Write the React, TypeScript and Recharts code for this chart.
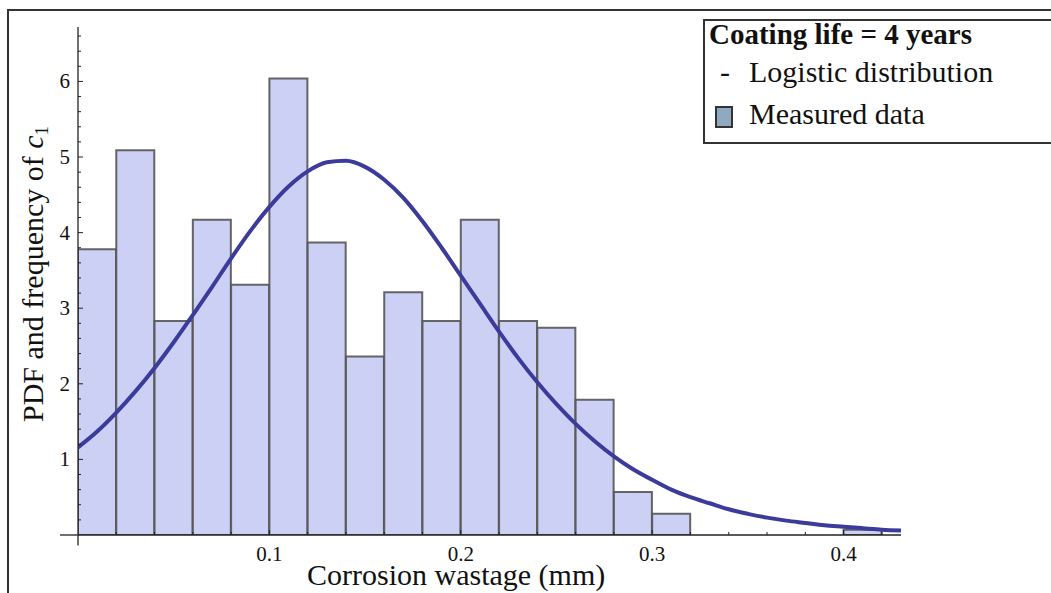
import { ComposedChart, Bar, Line, XAxis, YAxis, ReferenceLine } from 'recharts';

// histogram of measured c1 (bin centres, 0.02 mm wide bins)
const BINS = [0.01, 0.03, 0.05, 0.07, 0.09, 0.11, 0.13, 0.15, 0.17, 0.19, 0.21, 0.23, 0.25, 0.27, 0.29, 0.31, 0.33, 0.35, 0.37, 0.39, 0.41];
const FREQ = [3.78, 5.09, 2.83, 4.17, 3.31, 6.04, 3.87, 2.36, 3.21, 2.83, 4.17, 2.83, 2.74, 1.79, 0.57, 0.28, 0, 0, 0, 0, 0.07];

// fitted logistic pdf
const PDF_X = [0, 0.01, 0.02, 0.03, 0.04, 0.05, 0.06, 0.07, 0.08, 0.09, 0.1, 0.11, 0.12, 0.13, 0.14, 0.15, 0.16, 0.17, 0.18, 0.19, 0.2, 0.21, 0.22, 0.23, 0.24, 0.25, 0.26, 0.27, 0.28, 0.29, 0.3, 0.31, 0.32, 0.33, 0.34, 0.35, 0.36, 0.37, 0.38, 0.39, 0.4, 0.41, 0.42, 0.43];
const PDF_Y = [1.16, 1.37, 1.62, 1.9, 2.21, 2.55, 2.91, 3.28, 3.66, 4.02, 4.34, 4.61, 4.81, 4.93, 4.95, 4.87, 4.7, 4.46, 4.15, 3.8, 3.43, 3.06, 2.69, 2.34, 2.02, 1.73, 1.47, 1.24, 1.04, 0.87, 0.73, 0.6, 0.5, 0.42, 0.34, 0.28, 0.23, 0.19, 0.16, 0.13, 0.11, 0.09, 0.07, 0.06];

const X_TICKS = [0.02, 0.04, 0.06, 0.08, 0.1, 0.12, 0.14, 0.16, 0.18, 0.2, 0.22, 0.24, 0.26, 0.28, 0.3, 0.32, 0.34, 0.36, 0.38, 0.4, 0.42];
const X_MAJOR = [0.1, 0.2, 0.3, 0.4];
const X_LABELS = ['0.1', '0.2', '0.3', '0.4'];
const Y_TICKS = [0.2, 0.4, 0.6, 0.8, 1, 1.2, 1.4, 1.6, 1.8, 2, 2.2, 2.4, 2.6, 2.8, 3, 3.2, 3.4, 3.6, 3.8, 4, 4.2, 4.4, 4.6, 4.8, 5, 5.2, 5.4, 5.6, 5.8, 6, 6.2, 6.4, 6.6];
const Y_MAJOR = [1, 2, 3, 4, 5, 6];

const barData = BINS.map((bin, i) => ({ bin, freq: FREQ[i] }));
const pdfData = PDF_X.map((x, i) => ({ x, pdf: PDF_Y[i] }));

const FONT = '"Liberation Serif", "Times New Roman", serif';
const INK = '#222';

const XTick = ({ x, y, payload }: any) => {
  const idx = X_MAJOR.indexOf(payload.value);
  const major = idx >= 0;
  return (
    <g>
      <line x1={x} x2={x} y1={y} y2={y - (major ? 5 : 3)} stroke={INK} strokeWidth={1} />
      {major && (
        <text x={x} y={y + 26} textAnchor="middle" fontFamily={FONT} fontSize={21} fill="#111">
          {X_LABELS[idx]}
        </text>
      )}
    </g>
  );
};

const YTick = ({ x, y, payload }: any) => {
  const major = Y_MAJOR.includes(payload.value);
  return (
    <g>
      <line x1={x} x2={x + (major ? 5 : 3)} y1={y} y2={y} stroke={INK} strokeWidth={1} />
      {major && (
        <text x={x - 8} y={y + 7} textAnchor="end" fontFamily={FONT} fontSize={21} fill="#111">
          {payload.value}
        </text>
      )}
    </g>
  );
};

export default function App() {
  return (
    <div style={{ position: 'absolute', left: 0, top: 0, width: 1051, height: 593, background: '#fff', overflow: 'hidden' }}>
      <ComposedChart
        width={1051}
        height={593}
        data={barData}
        margin={{ top: 27, right: 150, bottom: 0, left: 8 }}
        barCategoryGap={0}
        barGap={0}
      >
        <XAxis
          xAxisId="pdf"
          dataKey="x"
          type="number"
          domain={[0, 0.43]}
          allowDataOverflow
          ticks={X_TICKS}
          interval={0}
          height={58}
          tickSize={0}
          tickMargin={0}
          tickLine={false}
          tick={<XTick />}
          axisLine={{ stroke: INK, strokeWidth: 1.3 }}
        />
        <XAxis xAxisId="bins" dataKey="bin" type="number" domain={[0, 0.43]} allowDataOverflow height={0} hide />
        <YAxis
          type="number"
          domain={[0, 6.72]}
          allowDataOverflow
          ticks={Y_TICKS}
          interval={0}
          width={70}
          tickSize={0}
          tickMargin={0}
          tickLine={false}
          tick={<YTick />}
          axisLine={{ stroke: INK, strokeWidth: 1.3 }}
        />
        <Bar
          xAxisId="bins"
          dataKey="freq"
          fill="#cbd0f4"
          stroke="#555"
          strokeWidth={2}
          strokeOpacity={0.9}
          isAnimationActive={false}
        />
        <Line
          xAxisId="pdf"
          data={pdfData}
          dataKey="pdf"
          type="monotone"
          stroke="#3b3b9c"
          strokeWidth={4}
          dot={false}
          activeDot={false}
          isAnimationActive={false}
        />
        <ReferenceLine
          xAxisId="pdf"
          segment={[{ x: -0.0094, y: 0 }, { x: 0, y: 0 }]}
          ifOverflow="visible"
          stroke={INK}
          strokeWidth={1.3}
        />
        <ReferenceLine
          xAxisId="pdf"
          segment={[{ x: 0, y: -0.14 }, { x: 0, y: 0 }]}
          ifOverflow="visible"
          stroke={INK}
          strokeWidth={1.3}
        />
      </ComposedChart>

      <svg width={1051} height={593} style={{ position: 'absolute', left: 0, top: 0, pointerEvents: 'none' }}>
        {/* outer frame */}
        <rect x={8} y={10} width={1100} height={700} fill="none" stroke="#333" strokeWidth={2} />

        {/* axis titles */}
        <text x={307} y={585} fontFamily={FONT} fontSize={30} fill="#111">
          Corrosion wastage (mm)
        </text>
        <text x={43} y={422} transform="rotate(-90 43 422)" fontFamily={FONT} fontSize={30} fill="#111">
          PDF and frequency of <tspan fontStyle="italic">c</tspan>
          <tspan fontSize={19} dy={5}>1</tspan>
        </text>

        {/* legend */}
        <rect x={704} y={20} width={400} height={123} fill="#fff" stroke="#333" strokeWidth={2} />
        <text x={709} y={44} fontFamily={FONT} fontSize={29} fontWeight="bold" fill="#111">
          Coating life = 4 years
        </text>
        <text x={720} y={82} fontFamily={FONT} fontSize={30} fill="#111">-</text>
        <text x={749} y={82} fontFamily={FONT} fontSize={30} fill="#111">
          Logistic distribution
        </text>
        <rect x={716} y={107} width={16} height={20} fill="#8fa9c0" stroke="#333" strokeWidth={2} />
        <text x={749} y={124} fontFamily={FONT} fontSize={30} fill="#111">
          Measured data
        </text>
      </svg>
    </div>
  );
}
